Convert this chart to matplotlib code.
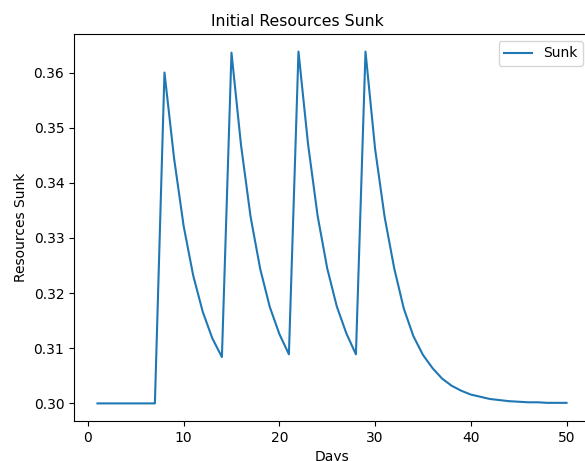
import matplotlib.pyplot as plt

days = list(range(1, 51))
sunk = [0.3000, 0.3000, 0.3000, 0.3000, 0.3000, 0.3000, 0.3000,
        0.3600, 0.3445, 0.3322, 0.3232, 0.3166, 0.3118, 0.3084,
        0.3636, 0.3468, 0.3338, 0.3244, 0.3175, 0.3126, 0.3089,
        0.3638, 0.3470, 0.3340, 0.3245, 0.3176, 0.3127, 0.3089,
        0.3638, 0.3462, 0.3338, 0.3245, 0.3172, 0.3122, 0.3088,
        0.3064, 0.3045, 0.3032, 0.3023, 0.3016, 0.3012, 0.3008,
        0.3006, 0.3004, 0.3003, 0.3002, 0.3002, 0.3001, 0.3001, 0.3001]

fig = plt.figure(figsize=(5.85, 4.61), dpi=100)
ax = fig.add_axes([0.1265, 0.0868, 0.882, 0.8395])
ax.plot(days, sunk, label="Sunk")
ax.set_title("Initial Resources Sunk", x=0.4335, fontsize=11.3)
ax.set_xlabel("Days")
ax.set_ylabel("Resources Sunk")
ax.legend(loc="upper right")

fig.savefig("out.png", dpi=100)
